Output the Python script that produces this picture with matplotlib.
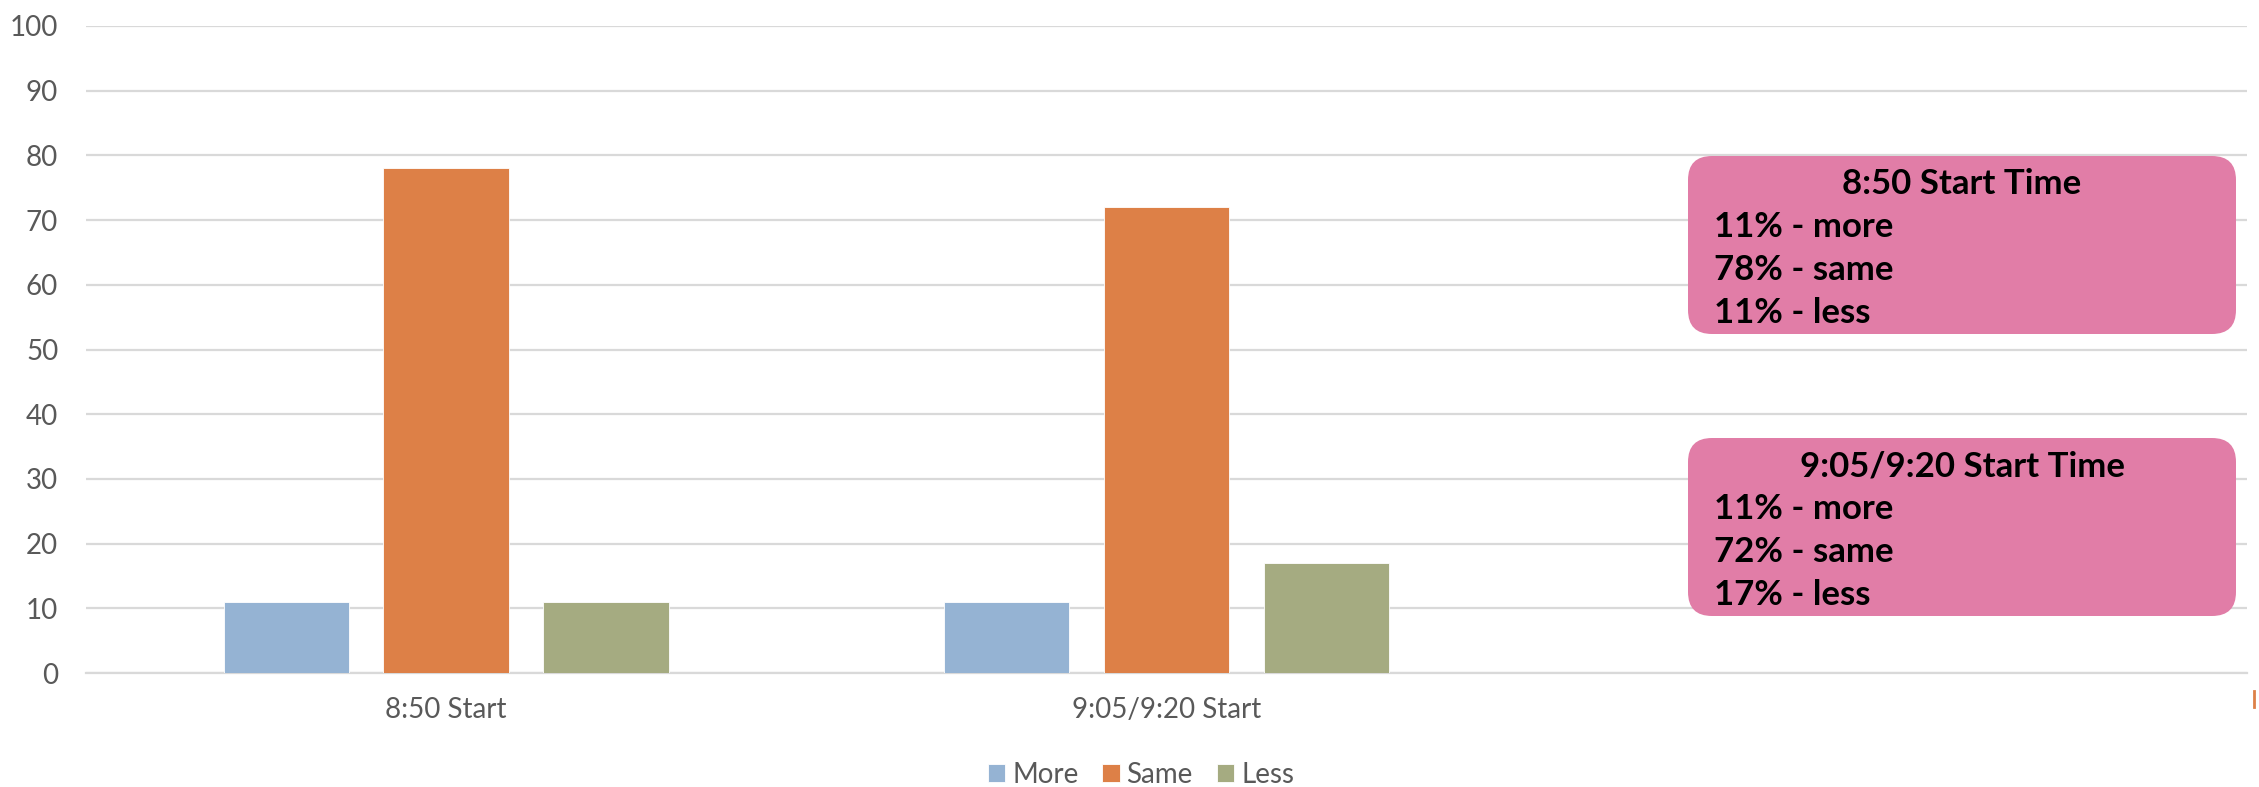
import matplotlib
matplotlib.use("Agg")
import matplotlib.pyplot as plt
from matplotlib.patches import FancyBboxPatch
import numpy as np

plt.rcParams['font.family'] = ['Lato', 'DejaVu Sans']

# data
categories = ["8:50 Start", "9:05/9:20 Start", ""]
series = ["More", "Same", "Less"]
more = [11, 11, 0]
same = [78, 72, 0]
less = [11, 17, 0]
colors = ["#95B3D3", "#DD8047", "#A5AB81"]

box_titles = ["8:50 Start Time", "9:05/9:20 Start Time"]
box_lines = [["11% - more", "78% - same", "11% - less"],
             ["11% - more", "72% - same", "17% - less"]]

W, H = 2259, 787
fig = plt.figure(figsize=(W / 100, H / 100), dpi=100)
ax = fig.add_axes([86 / W, 1 - 673 / H, (2247 - 86) / W, (673 - 26) / H])

x = np.arange(len(categories))
bw = 0.174
off = 0.222
for i, (vals, c, name) in enumerate(zip([more, same, less], colors, series)):
    ax.bar(x + (i - 1) * off, vals, bw, color=c, label=name, zorder=3,
           edgecolor='white', linewidth=0.6)

ax.set_xlim(-0.5, 2.5)
ax.set_ylim(0, 100)
ax.set_yticks(range(0, 101, 10))
ax.set_xticks(x)
ax.set_xticklabels(categories)
ax.yaxis.grid(True, color="#D9D9D9", linewidth=1.6, zorder=0)
ax.set_axisbelow(True)
for s in ['top', 'right', 'left']:
    ax.spines[s].set_visible(False)
ax.spines['bottom'].set_color("#D9D9D9")
ax.spines['bottom'].set_linewidth(1.6)
ax.tick_params(axis='both', length=0, labelsize=20, colors="#595959")
ax.tick_params(axis='y', pad=20)
ax.tick_params(axis='x', pad=17)

fig.legend(loc='center', bbox_to_anchor=(1141 / W, 1 - 775 / H), ncol=3,
           frameon=False, fontsize=20, labelcolor="#595959",
           handlelength=0.62, handleheight=0.62, handletextpad=0.25,
           columnspacing=0.86)

# overlay in pixel units for the annotation boxes
ov = fig.add_axes([0, 0, 1, 1])
ov.set_xlim(0, W)
ov.set_ylim(H, 0)
ov.axis('off')

box_tops = [156, 438]
for top, title, lines in zip(box_tops, box_titles, box_lines):
    ov.add_patch(FancyBboxPatch((1688, top), 548, 178,
                                boxstyle="round,pad=0,rounding_size=24",
                                facecolor="#E17DA7", edgecolor="none"))
    ov.text(1962, top + 38, title, ha='center', va='baseline',
            fontsize=25, fontweight='bold', color='black')
    for k, line in enumerate(lines):
        ov.text(1714, top + 81 + 43 * k, line, ha='left', va='baseline',
                fontsize=25, fontweight='bold', color='black')

# small orange mark at the right edge
ov.plot([2254, 2254], [691, 707], color="#DD8047", linewidth=2)

fig.savefig("out.png", dpi=100)
